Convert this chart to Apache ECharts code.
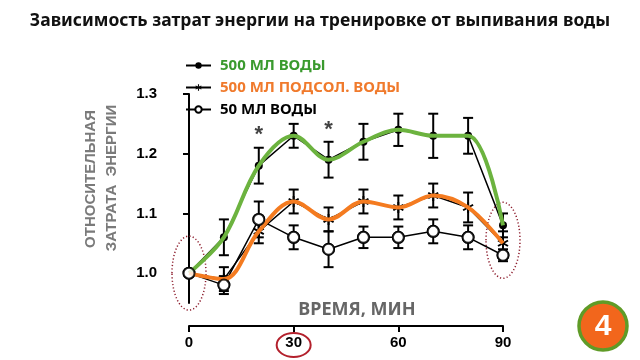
<!DOCTYPE html>
<html><head><meta charset="utf-8">
<script src="https://cdn.jsdelivr.net/npm/echarts@6/dist/echarts.min.js"></script>
<style>html,body{margin:0;padding:0;background:#fff}#c{width:640px;height:360px}</style>
</head><body><div id="c"></div>
<script>
var times = [0, 10, 20, 30, 40, 50, 60, 70, 80, 90];
var water500 = [1.00, 1.06, 1.18, 1.23, 1.19, 1.22, 1.24, 1.23, 1.23, 1.08];
var water500Err = [0, 0.03, 0.03, 0.02, 0.03, 0.03, 0.027, 0.037, 0.03, 0.02];
var salted500 = [1.00, 0.99, 1.07, 1.12, 1.09, 1.12, 1.11, 1.13, 1.11, 1.05];
var salted500Err = [0, 0.02, 0.02, 0.02, 0.02, 0.02, 0.02, 0.02, 0.025, 0.02];
var water50 = [1.00, 0.98, 1.09, 1.06, 1.04, 1.06, 1.06, 1.07, 1.06, 1.03];
var water50Err = [0, 0.015, 0.03, 0.02, 0.03, 0.018, 0.018, 0.02, 0.02, 0.01];
var yTicks = [1.0, 1.1, 1.2, 1.3];
var starTimes = [20, 40];
var starValues = [1.232, 1.24];
var seriesNames = ['500 МЛ ВОДЫ', '500 МЛ ПОДСОЛ. ВОДЫ', '50 МЛ ВОДЫ'];
var titleText = 'Зависимость затрат энергии на тренировке от выпивания воды';
var yName1 = 'ОТНОСИТЕЛЬНАЯ';
var yName2 = 'ЗАТРАТА  ЭНЕРГИИ';
var xName = 'ВРЕМЯ, МИН';
var badgeText = '4';

var asteriskPath = 'path://M-1,-6L1,-6L1,6L-1,6Z M4.696,3.866L5.696,2.134L-4.696,-3.866L-5.696,-2.134Z M5.696,-2.134L4.696,-3.866L-5.696,2.134L-4.696,3.866Z';

function pairs(ys) { return times.map(function (t, i) { return [t, ys[i]]; }); }
function errData(ys, es) {
  var out = [];
  times.forEach(function (t, i) { if (es[i] > 0) out.push([t, ys[i] - es[i], ys[i] + es[i]]); });
  return out;
}
function errRender(params, api) {
  var x = api.value(0);
  var lo = api.coord([x, api.value(1)]);
  var hi = api.coord([x, api.value(2)]);
  var w = 5;
  var st = { stroke: '#000', lineWidth: 2 };
  return { type: 'group', children: [
    { type: 'line', shape: { x1: lo[0], y1: lo[1], x2: hi[0], y2: hi[1] }, style: st },
    { type: 'line', shape: { x1: hi[0] - w, y1: hi[1], x2: hi[0] + w, y2: hi[1] }, style: st },
    { type: 'line', shape: { x1: lo[0] - w, y1: lo[1], x2: lo[0] + w, y2: lo[1] }, style: st }
  ]};
}
function errSeries(ys, es) {
  return { type: 'custom', renderItem: errRender, data: errData(ys, es), z: 2, silent: true,
    encode: { x: 0, y: [1, 2] } };
}

var chart = echarts.init(document.getElementById('c'));
var option = {
  animation: false,
  backgroundColor: '#fff',
  title: { text: titleText, left: 'center', top: 7,
    textStyle: { fontFamily: 'Noto Sans', fontWeight: 'bold', fontSize: 17.5, color: '#111' } },
  legend: {
    orient: 'vertical', left: 180, top: 53, itemWidth: 25, itemHeight: 8, itemGap: 7,
    textStyle: { fontFamily: 'Noto Sans', fontWeight: 'bold', fontSize: 15, lineHeight: 14, padding: [0, 0, 0, 4] },
    data: [
      { name: seriesNames[0], textStyle: { color: '#3a9a2e' } },
      { name: seriesNames[1], textStyle: { color: '#f07a2c' } },
      { name: seriesNames[2], textStyle: { color: '#000' } }
    ]
  },
  grid: { left: 189, right: 137, top: 94, bottom: 57 },
  xAxis: {
    type: 'value', min: 0, max: 90, interval: 30, offset: 23,
    axisLine: { lineStyle: { color: '#000', width: 2 } },
    axisTick: { length: 6, lineStyle: { color: '#000', width: 2 } },
    axisLabel: { margin: 9, color: '#000', fontWeight: 'bold', fontSize: 15, fontFamily: 'Liberation Sans' },
    splitLine: { show: false }
  },
  yAxis: {
    type: 'value', min: 0.95, max: 1.3, offset: 23,
    axisLine: { show: true, lineStyle: { color: '#000', width: 2 } },
    axisTick: { show: true, length: 6, customValues: yTicks, lineStyle: { color: '#000', width: 2 } },
    axisLabel: { customValues: yTicks, margin: 9, color: '#000', fontWeight: 'bold', fontSize: 15,
      fontFamily: 'Liberation Sans', formatter: function (v) { return v.toFixed(1); } },
    splitLine: { show: false }
  },
  series: [
    errSeries(water500, water500Err),
    errSeries(salted500, salted500Err),
    errSeries(water50, water50Err),
    { name: seriesNames[0], type: 'line', data: pairs(water500), z: 3,
      lineStyle: { color: '#000', width: 1.5 }, symbol: 'circle', symbolSize: 8,
      itemStyle: { color: '#000' } },
    { name: seriesNames[1], type: 'line', data: pairs(salted500), z: 3,
      lineStyle: { color: '#000', width: 1.5 }, symbol: asteriskPath, symbolSize: 11,
      itemStyle: { color: '#000' } },
    { name: seriesNames[2], type: 'line', data: pairs(water50), z: 3,
      lineStyle: { color: '#000', width: 1.5 }, symbol: 'circle', symbolSize: 11,
      itemStyle: { color: '#fff', borderColor: '#000', borderWidth: 2 } },
    { type: 'line', data: pairs(water500), z: 4, smooth: 0.35, symbol: 'none', silent: true,
      lineStyle: { color: '#6cb33f', width: 4 } },
    { type: 'line', data: pairs(salted500), z: 4, smooth: 0.35, symbol: 'none', silent: true,
      lineStyle: { color: '#f47b20', width: 4 } },
    { type: 'scatter', data: pairs(water50), z: 5, symbol: 'circle', symbolSize: 11, silent: true,
      itemStyle: { color: '#fff', borderColor: '#000', borderWidth: 2 } },
    { type: 'scatter', z: 5, silent: true, symbolSize: 1, itemStyle: { color: 'rgba(0,0,0,0)' },
      data: starTimes.map(function (t, i) { return [t, starValues[i]]; }),
      label: { show: true, position: 'inside', formatter: '*', color: '#111', fontSize: 22, fontWeight: 'bold',
        fontFamily: 'Liberation Sans' } }
  ]
};
chart.setOption(option);

function px(t, v) { return chart.convertToPixel({ gridIndex: 0 }, [t, v]); }
var pStart = px(times[0], water50[0]);
var pEnd = px(times[9], (water500[9] + water50[9]) / 2);
var p30 = px(30, 0.95);
var ellStyle = { fill: 'none', stroke: '#8e1f2f', lineWidth: 1.5, lineDash: [1.2, 2.2] };
chart.setOption({
  graphic: [
    { type: 'ellipse', shape: { cx: pStart[0], cy: pStart[1], rx: 17, ry: 37 }, style: ellStyle, z: 1 },
    { type: 'ellipse', shape: { cx: pEnd[0], cy: pEnd[1], rx: 17, ry: 38 }, style: ellStyle, z: 1 },
    { type: 'ellipse', shape: { cx: p30[0], cy: p30[1] + 42, rx: 17, ry: 12 },
      style: { fill: 'none', stroke: '#b3202c', lineWidth: 2 } },
    { type: 'text', x: 91, y: 179, rotation: Math.PI / 2,
      style: { text: yName1, fill: '#7a7a7a', fontSize: 15, fontWeight: 'bold', fontFamily: 'Liberation Sans', align: 'center', verticalAlign: 'middle' } },
    { type: 'text', x: 112, y: 178, rotation: Math.PI / 2,
      style: { text: yName2, fill: '#7a7a7a', fontSize: 15, fontWeight: 'bold', fontFamily: 'Liberation Sans', align: 'center', verticalAlign: 'middle' } },
    { type: 'text', x: 357, y: 310,
      style: { text: xName, fill: '#666', fontSize: 18, fontWeight: 'bold', fontFamily: 'Noto Sans', align: 'center', verticalAlign: 'middle' } },
    { type: 'circle', shape: { cx: 603, cy: 326, r: 24 }, style: { fill: '#f2661c', stroke: '#5f9b27', lineWidth: 3.5 } },
    { type: 'text', x: 603, y: 327,
      style: { text: badgeText, fill: '#fff', fontSize: 30, fontWeight: 'bold', fontFamily: 'Liberation Sans', align: 'center', verticalAlign: 'middle' } }
  ]
});
</script></body></html>
